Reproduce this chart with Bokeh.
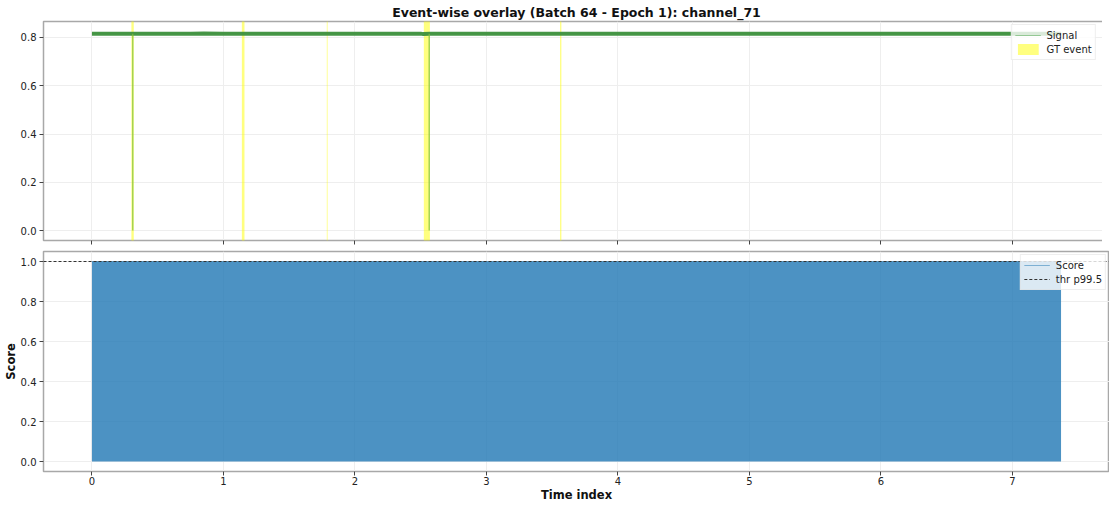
from bokeh.plotting import figure
from bokeh.layouts import column
from bokeh.models import (Range1d, FixedTicker, Legend, LegendItem, Label, PrintfTickFormatter)
from bokeh.embed import file_html
from bokeh.resources import INLINE

# ---------------- data ----------------
signal_x = [0.0, 0.25e6, 0.30e6, 0.5e6, 0.75e6, 0.85e6, 1.0e6, 1.25e6, 1.5e6, 1.75e6,
            2.0e6, 2.25e6, 2.5e6, 2.52e6, 2.57e6, 2.75e6, 3.0e6, 3.25e6, 3.5e6, 3.75e6,
            4.0e6, 4.25e6, 4.5e6, 4.75e6, 5.0e6, 5.25e6, 5.5e6, 5.75e6, 6.0e6, 6.25e6,
            6.5e6, 6.75e6, 7.0e6, 7.25e6, 7.37e6]
signal_y = [0.816, 0.815, 0.815, 0.815, 0.816, 0.817, 0.815, 0.815, 0.816, 0.815,
            0.815, 0.815, 0.816, 0.814, 0.815, 0.816, 0.815, 0.815, 0.815, 0.816,
            0.815, 0.815, 0.816, 0.815, 0.815, 0.815, 0.816, 0.815, 0.815, 0.815,
            0.816, 0.815, 0.815, 0.815, 0.815]
# dropouts where the signal falls to ~0
dropout_x = [0.31e6, 2.565e6]
dropout_lo = [0.0, 0.0]
dropout_hi = [0.815, 0.815]

event_start = [0.300e6, 1.140e6, 1.786e6, 2.524e6, 3.560e6]
event_end = [0.318e6, 1.160e6, 1.792e6, 2.570e6, 3.570e6]

score_x = [0.0, 7.37e6]
score_lo = [0.0, 0.0]
score_hi = [1.0, 1.0]
thr = 1.0

x_ticks = [0, 1e6, 2e6, 3e6, 4e6, 5e6, 6e6, 7e6]
x_tick_labels = ["0", "1", "2", "3", "4", "5", "6", "7"]
top_y_ticks = [0.0, 0.2, 0.4, 0.6, 0.8]
bot_y_ticks = [0.0, 0.2, 0.4, 0.6, 0.8, 1.0]

# ---------------- ranges ----------------
x_min, x_max = 0.0, max(score_x)
pad = 0.05 * (x_max - x_min)
x_range = Range1d(x_min - pad, x_max + pad)
top_lo, top_hi = 0.0, 0.825
tpad = 0.05 * (top_hi - top_lo)
bot_lo, bot_hi = -0.05, 1.05

FONT = "DejaVu Sans"
FW = 1066  # frame width
LB = 36    # left border


def style(p):
    p.outline_line_color = "#a8a8a8"
    p.outline_line_width = 1.5
    p.background_fill_color = "white"
    p.border_fill_color = "white"
    for ax in (p.xaxis[0], p.yaxis[0]):
        ax.axis_line_color = None
        ax.major_tick_line_color = "#444444"
        ax.major_tick_in = 0
        ax.major_tick_out = 4
        ax.minor_tick_line_color = None
        ax.major_label_text_font = FONT
        ax.major_label_text_font_size = "10px"
        ax.major_label_text_color = "#222222"
        ax.major_label_standoff = 3
    p.yaxis.formatter = PrintfTickFormatter(format="%.1f")
    p.xgrid.grid_line_color = "#eeeeee"
    p.ygrid.grid_line_color = "#eeeeee"
    p.xaxis.ticker = FixedTicker(ticks=x_ticks)


# ---------------- top ----------------
p1 = figure(frame_width=FW, frame_height=219, x_range=x_range,
            y_range=Range1d(top_lo - tpad, top_hi + tpad),
            output_backend="svg", toolbar_location=None,
            min_border_left=LB, min_border_right=0, min_border_top=18, min_border_bottom=8)
style(p1)
p1.yaxis.ticker = FixedTicker(ticks=top_y_ticks)
p1.xaxis.major_label_overrides = {t: "" for t in x_ticks}
p1.xaxis.major_label_standoff = 0
p1.title.text = "Event-wise overlay (Batch 64 - Epoch 1): channel_71"
p1.title.align = "center"
p1.title.text_font = FONT
p1.title.text_font_size = "12.5px"
p1.title.text_font_style = "bold"
p1.title.text_color = "#111111"
p1.title.standoff = 4

ev = p1.quad(left=event_start, right=event_end, bottom=top_lo - 2 * tpad, top=top_hi + 2 * tpad,
             fill_color="yellow", fill_alpha=0.5, line_color=None)
sig_leg = p1.line(signal_x, signal_y, line_color="green", line_alpha=0.35, line_width=1)
sig = p1.line(signal_x, signal_y, line_color="#3d903d", line_alpha=0.95, line_width=4)
p1.segment(x0=dropout_x, y0=dropout_lo, x1=dropout_x, y1=dropout_hi,
           line_color="#7fbf3f", line_alpha=0.7, line_width=1.5)

leg1 = Legend(items=[LegendItem(label="Signal", renderers=[sig_leg]),
                     LegendItem(label="GT event", renderers=[ev])],
              location="top_right")
p1.add_layout(leg1)

# ---------------- bottom ----------------
p2 = figure(frame_width=FW, frame_height=220, x_range=x_range, y_range=Range1d(bot_lo, bot_hi),
            output_backend="svg", toolbar_location=None,
            min_border_left=LB, min_border_right=0, min_border_top=3, min_border_bottom=28)
style(p2)
p2.xaxis.major_label_overrides = {t: l for t, l in zip(x_ticks, x_tick_labels)}
p2.yaxis.ticker = FixedTicker(ticks=bot_y_ticks)
p2.yaxis.axis_label = "Score"
p2.xaxis.axis_label = "Time index"
p2.xaxis.major_label_standoff = 1
for ax in (p2.xaxis[0], p2.yaxis[0]):
    ax.axis_label_text_font = FONT
    ax.axis_label_text_font_size = "11.5px"
    ax.axis_label_text_font_style = "bold"
    ax.axis_label_text_color = "#111111"
    ax.axis_label_standoff = 0

p2.varea(x=score_x, y1=score_lo, y2=score_hi, fill_color="#1f77b4", fill_alpha=0.8)
sc = p2.line(score_x, score_hi, line_color="#1f77b4", line_alpha=0.5, line_width=1)
th = p2.line([x_range.start, x_range.end], [thr, thr], line_color="#333333",
             line_dash="3 2", line_width=1)

leg2 = Legend(items=[LegendItem(label="Score", renderers=[sc]),
                     LegendItem(label="thr p99.5", renderers=[th])],
              location="top_right")
p2.add_layout(leg2)

p2.add_layout(Label(x=FW - 1, y=-17, x_units="screen", y_units="screen", text="1e6",
                    text_align="right", text_baseline="top",
                    text_font=FONT, text_font_size="8.5px", text_color="#333333"))

for lg in (leg1, leg2):
    lg.label_text_font = FONT
    lg.label_text_font_size = "10px"
    lg.label_text_color = "#222222"
    lg.background_fill_color = "white"
    lg.background_fill_alpha = 0.8
    lg.border_line_color = "#dddddd"
    lg.border_line_width = 1
    lg.margin = 3
    lg.padding = 3
    lg.spacing = 0
    lg.label_height = 14
    lg.glyph_height = 14
    lg.glyph_width = 26
    lg.label_standoff = 6

layout = column(p1, p2, spacing=0)
open("out.html", "w").write(file_html(layout, INLINE))
